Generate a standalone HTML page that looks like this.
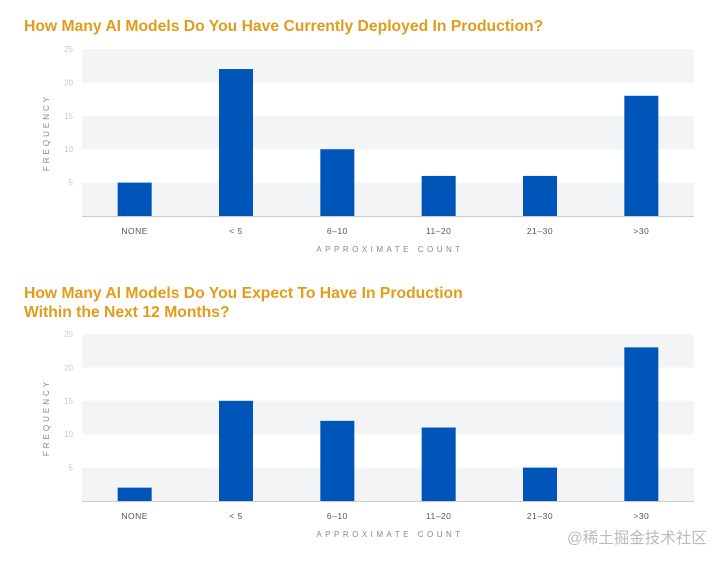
<!DOCTYPE html>
<html><head><meta charset="utf-8"><style>
body{margin:0;background:#fff;width:720px;height:561px;overflow:hidden;font-family:"Liberation Sans",sans-serif}
.t{position:absolute;left:24px;color:#E39B1B;font-weight:bold;font-size:15.7px;line-height:19px}
</style></head><body>
<div class="t" style="top:17px">How Many AI Models Do You Have Currently Deployed In Production?</div>
<div class="t" style="top:284px">How Many AI Models Do You Expect To Have In Production<br>Within the Next 12 Months?</div>
<svg id="s" width="720" height="561" style="position:absolute;left:0;top:0"></svg>
<div style="position:absolute;left:567px;top:526px;color:#bbb;font-size:15.5px;font-family:'Liberation Sans','Noto Sans CJK SC',sans-serif">@稀土掘金技术社区</div>
<script>
const categories=["NONE","< 5","6–10","11–20","21–30",">30"];
const current=[5,22,10,6,6,18];
const expected=[2,15,12,11,5,23];
const ticks=[5,10,15,20,25];
const NS="http://www.w3.org/2000/svg",svg=document.getElementById('s');
function mk(t,a,p){const e=document.createElementNS(NS,t);for(const k in a)e.setAttribute(k,a[k]);(p||svg).appendChild(e);return e;}
function chart(vals,top,base,name){
  const x0=84,x1=692,max=25;
  const y=v=>base-(base-top)*v/max;
  const step=(x1-x0)/categories.length;
  const g=mk('g',{});
  
  
  for(let i=0;i<5;i+=2){const r=mk('rect',{x:x0-2,y:y(i*5+5),width:x1-x0+4,height:y(i*5)-y(i*5+5),fill:'#f3f4f5'},g);}
  ticks.forEach(t=>{const e=mk('text',{x:73,y:y(t)+3,'font-size':8,fill:'#c8c8c8','text-anchor':'end'},g);e.textContent=t;});
  const ax=mk('line',{x1:x0-2,x2:x1+2,y1:base+0.5,y2:base+0.5,stroke:'#ccc'},g);
  vals.forEach((v,i)=>{const cx=x0+step*(i+0.5);
    const b=mk('rect',{x:cx-17,y:y(v),width:34,height:base-y(v),fill:'#0055b8'},g);
    const l=mk('text',{x:cx,y:base+18,'font-size':8.5,fill:'#555','text-anchor':'middle','letter-spacing':'0.5'},g);l.textContent=categories[i];});
  const xt=mk('text',{x:390,y:base+36,'font-size':8,fill:'#888','text-anchor':'middle','letter-spacing':'3.5'},g);xt.textContent='APPROXIMATE COUNT';
  const yt=mk('text',{x:0,y:0,'font-size':8,fill:'#888','text-anchor':'middle','letter-spacing':'3',transform:`translate(49,${(top+base)/2}) rotate(-90)`},g);yt.textContent='FREQUENCY';
}
chart(current,49,216,'chart-current');
chart(expected,334,501,'chart-expected');
</script>
</body></html>
